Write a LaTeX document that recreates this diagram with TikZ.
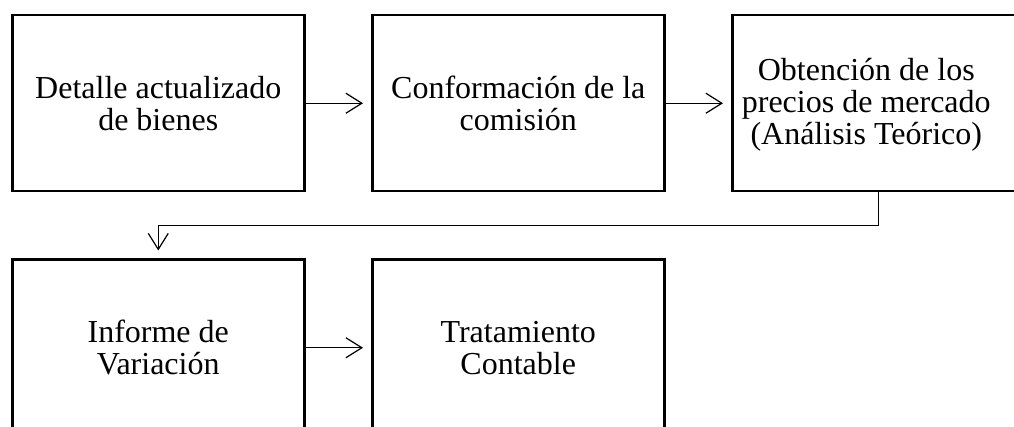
\documentclass[tikz,border=0pt]{standalone}
\usepackage{fontspec}
\setmainfont{Liberation Serif}
\usetikzlibrary{arrows.meta}
\begin{document}
\begin{tikzpicture}[x=1pt,y=-1pt,
 boxnode/.style={draw,line width=2.5pt,minimum width=292pt,minimum height=176pt,inner sep=0pt,anchor=north west},
 txt/.style={align=center,font=\fontsize{32}{32}\selectfont,inner sep=0pt},
 conn/.style={line width=1.2pt,-{Straight Barb[length=16pt,width=20pt,line width=1.2pt]},shorten >=8pt}]
\useasboundingbox (0,0) rectangle (1014,427);
\fill[white] (0,0) rectangle (1014,427);
\clip (0,0) rectangle (1014,427);
\node[boxnode] (b1) at (11,14) {};
\node[boxnode] (b2) at (371,14) {};
\node[boxnode] (b3) at (731,14) {};
\node[boxnode] (b4) at (11,258.5) {};
\node[boxnode] (b5) at (371,258.5) {};
\node[txt] (t1) at (b1.center) {Detalle actualizado\\de bienes};
\node[txt] (t2) at (b2.center) {Conformación de la\\comisión};
\node[txt] (t3) at ([xshift=-12pt,yshift=-1.5pt]b3.center) {Obtención de los\\precios de mercado\\(Análisis Teórico)};
\node[txt] (t4) at (b4.center) {Informe de\\Variación};
\node[txt] (t5) at (b5.center) {Tratamiento\\Contable};
\draw[conn] (b1.east) -- (b2.west);
\draw[conn] (b2.east) -- (b3.west);
\draw[conn] (b4.east) -- (b5.west);
\coordinate (k) at ([yshift=-33pt]b3.south);
\draw[conn] (b3.south) -- (k) -| (b4.north);
\end{tikzpicture}
\end{document}
